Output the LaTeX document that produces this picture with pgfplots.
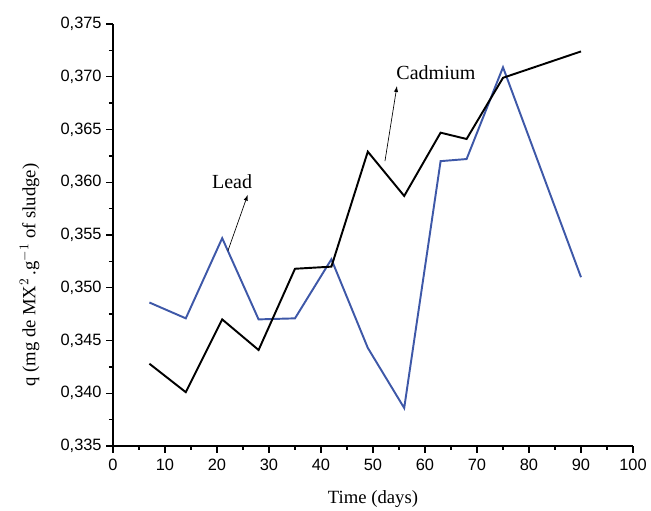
\documentclass[border=0pt]{standalone}
\usepackage{fontspec}
\setmainfont{Liberation Serif}
\newfontfamily\arial{Liberation Sans}
\usepackage{pgfplots}
\pgfplotsset{compat=1.18}
\definecolor{leadblue}{RGB}{62,88,168}
\begin{document}
\begin{tikzpicture}[x=0.75pt,y=0.75pt]
\begin{axis}[
  scale only axis,
  width=390pt, height=316.5pt,
  xmin=0, xmax=100, ymin=0.335, ymax=0.375,
  axis x line*=bottom, axis y line*=left,
  axis line style={-, line width=1.1pt},
  xtick={0,10,...,100},
  ytick={0.335,0.340,...,0.375},
  minor x tick num=1, minor y tick num=1,
  tick align=outside,
  major tick length=5pt, minor tick length=3pt,
  tick style={line width=1pt, black},
  ticklabel style={font=\arial\fontsize{12.3}{14}\selectfont},
  /pgf/number format/assume math mode=true,
  yticklabel style={/pgf/number format/.cd, fixed, fixed zerofill, precision=3, use comma},
  xticklabel style={yshift=-1pt, /pgf/number format/.cd, fixed, precision=0},
  scaled y ticks=false,
  xlabel={Time (days)},
  ylabel={q (mg de MX$^{2}$\,.g$^{-1}$ of sludge)},
  label style={font=\fontsize{14}{16}\selectfont},
  xlabel style={yshift=-8pt},
  ylabel style={at={(ticklabel cs:0.405)}, yshift=9pt},
  clip=false,
]
\addplot[leadblue, line width=1.45pt] coordinates {
(7,0.3486) (14,0.3471) (21,0.3547) (28,0.3470) (35,0.3471) (42,0.3527)
(49,0.3443) (56,0.3386) (63,0.3620) (68,0.3622) (75,0.3709) (90,0.3510)};
\addplot[black, line width=1.45pt] coordinates {
(7,0.3428) (14,0.3401) (21,0.3470) (28,0.3441) (35,0.3518) (42,0.3520)
(49,0.3629) (56,0.3587) (63,0.3647) (68,0.3641) (75,0.3699) (90,0.3724)};
\draw[-latex, line width=0.5pt] (axis cs:22.1,0.3535) -- (axis cs:25.9,0.3588);
\node[font=\fontsize{15}{17}\selectfont] at (axis cs:22.9,0.3601) {Lead};
\draw[-latex, line width=0.5pt] (axis cs:52.3,0.3620) -- (axis cs:54.6,0.3691);
\node[font=\fontsize{15}{17}\selectfont] at (axis cs:62.1,0.3704) {Cadmium};
\end{axis}
\pgfresetboundingbox
\path (-113,-65) rectangle (538,446);
\end{tikzpicture}
\end{document}
